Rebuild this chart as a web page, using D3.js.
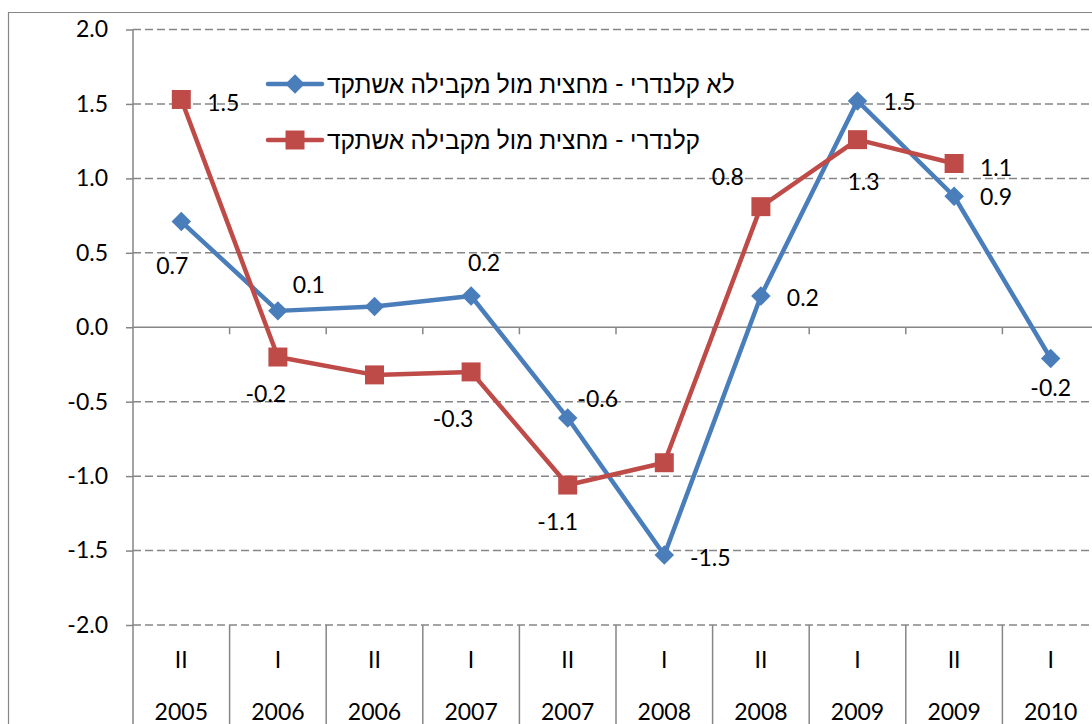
<!DOCTYPE html>
<html>
<head>
<meta charset="utf-8">
<script src="https://cdn.jsdelivr.net/npm/d3@7"></script>
<style>
  body { margin: 0; background: #fff; }
  svg text { font-family: Lato, 'Liberation Sans', sans-serif; fill: #000; }
</style>
</head>
<body>
<svg id="chart" width="1092" height="724"></svg>
<script>
// half-year categories
var halves = ['II', 'I', 'II', 'I', 'II', 'I', 'II', 'I', 'II', 'I'];
var years = ['2005', '2006', '2006', '2007', '2007', '2008', '2008', '2009', '2009', '2010'];

// series values
var nonCalendar = [0.71, 0.11, 0.14, 0.21, -0.61, -1.53, 0.21, 1.52, 0.88, -0.21];
var calendar = [1.53, -0.20, -0.32, -0.30, -1.06, -0.91, 0.81, 1.26, 1.10, null];

var seriesNames = ['לא קלנדרי - מחצית מול מקבילה אשתקד', 'קלנדרי - מחצית מול מקבילה אשתקד'];
var yTicks = [2.0, 1.5, 1.0, 0.5, 0.0, -0.5, -1.0, -1.5, -2.0];

// where each data label sits relative to its point (null = no label)
var blueLabelPos = [[-9, 44], [31, -26], null, [13, -33], [30, -19], [46, 3], [42, 2], [42, 1], [42, 1], [0, 29]];
var redLabelPos = [[42, 3], [-12, 37], null, [-18, 47], [-10, 37], null, [-33, -30], [6, 42], [42, 4], null];

var svg = d3.select('#chart');
var blue = '#4a7ebb', red = '#be4b48', grid = '#868686';
var fontSize = '23px';

var x = d3.scaleBand()
	.domain(d3.range(halves.length))
	.range([133, 1099])
	.padding(0);

var y = d3.scaleLinear()
	.domain([-2, 2])
	.range([625, 29.5]);

var cx = i => x(i) + x.bandwidth() / 2;
var fmt = v => d3.format('.1f')(v).replace('−', '-');

// outer chart border
svg.append('path')
	.attr('d', 'M8.5,724 V12.5 H1092')
	.attr('fill', 'none')
	.attr('stroke', grid)
	.attr('stroke-width', 1.2);

// dashed gridlines
svg.append('g').selectAll('line')
	.data(yTicks.filter(d => d !== 0))
	.enter().append('line')
	.attr('x1', 133).attr('x2', 1099)
	.attr('y1', d => y(d)).attr('y2', d => y(d))
	.attr('stroke', grid)
	.attr('stroke-width', 1.5)
	.attr('stroke-dasharray', '8,4');

// y axis
var yAxis = svg.append('g')
	.attr('transform', 'translate(133,0)')
	.call(d3.axisLeft(y).tickValues(yTicks).tickSize(7).tickPadding(18));
yAxis.select('.domain').remove();
yAxis.selectAll('line').attr('stroke', grid).attr('stroke-width', 1.5);
yAxis.selectAll('text')
	.style('font-size', fontSize)
	.style('font-family', "Lato, 'Liberation Sans', sans-serif")
	.text(fmt);

svg.append('line')
	.attr('x1', 133).attr('x2', 133)
	.attr('y1', y(2)).attr('y2', 724)
	.attr('stroke', grid).attr('stroke-width', 1.5);

// category axis line at zero with ticks
svg.append('line')
	.attr('x1', 133).attr('x2', 1099)
	.attr('y1', y(0)).attr('y2', y(0))
	.attr('stroke', grid).attr('stroke-width', 1.5);

var bounds = d3.range(1, halves.length).map(i => x(i));
svg.append('g').selectAll('line')
	.data(bounds)
	.enter().append('line')
	.attr('x1', d => d).attr('x2', d => d)
	.attr('y1', y(0)).attr('y2', y(0) + 7)
	.attr('stroke', grid).attr('stroke-width', 1.5);

// separators in the label area below the plot
svg.append('g').selectAll('line')
	.data(bounds)
	.enter().append('line')
	.attr('x1', d => d).attr('x2', d => d)
	.attr('y1', y(-2)).attr('y2', 724)
	.attr('stroke', grid).attr('stroke-width', 1.5);

var catLabels = svg.append('g').style('font-size', fontSize);
catLabels.selectAll('.half')
	.data(halves)
	.enter().append('text')
	.attr('x', (d, i) => cx(i))
	.attr('y', 660)
	.attr('dy', '0.35em')
	.attr('text-anchor', 'middle')
	.text(d => d);
catLabels.selectAll('.year')
	.data(years)
	.enter().append('text')
	.attr('x', (d, i) => cx(i))
	.attr('y', 712)
	.attr('dy', '0.35em')
	.attr('text-anchor', 'middle')
	.text(d => d);

// lines and markers
var line = d3.line()
	.defined(d => d !== null)
	.x((d, i) => cx(i))
	.y(d => y(d));

var drawSeries = function(values, color, size, diamond) {
	svg.append('path')
		.datum(values)
		.attr('d', line)
		.attr('fill', 'none')
		.attr('stroke', color)
		.attr('stroke-width', 4.5)
		.attr('stroke-linejoin', 'round');

	svg.append('g').selectAll('path')
		.data(values.map((v, i) => ({v: v, i: i})).filter(d => d.v !== null))
		.enter().append('path')
		.attr('d', d3.symbol().type(d3.symbolSquare).size(size))
		.attr('transform', d => 'translate(' + cx(d.i) + ',' + y(d.v) + ')' + (diamond ? ' rotate(45)' : ''))
		.attr('fill', color);
};

drawSeries(nonCalendar, blue, 190, true);
drawSeries(calendar, red, 360, false);

// data labels
var drawLabels = function(values, pos) {
	svg.append('g').style('font-size', fontSize).selectAll('text')
		.data(values.map((v, i) => ({v: v, i: i, p: pos[i]})).filter(d => d.v !== null && d.p))
		.enter().append('text')
		.attr('x', d => cx(d.i) + d.p[0])
		.attr('y', d => y(d.v) + d.p[1])
		.attr('dy', '0.35em')
		.attr('text-anchor', 'middle')
		.text(d => fmt(d.v));
};
drawLabels(nonCalendar, blueLabelPos);
drawLabels(calendar, redLabelPos);

// legend
var legend = svg.append('g');
[blue, red].forEach(function(c, k) {
	var ly = 84 + k * 56;
	legend.append('line')
		.attr('x1', 268).attr('x2', 322)
		.attr('y1', ly).attr('y2', ly)
		.attr('stroke', c).attr('stroke-width', 4.5).attr('stroke-linecap', 'round');
	legend.append('path')
		.attr('d', d3.symbol().type(d3.symbolSquare).size(k === 0 ? 190 : 360))
		.attr('transform', 'translate(295,' + ly + ')' + (k === 0 ? ' rotate(45)' : ''))
		.attr('fill', c);
	legend.append('text')
		.attr('x', 327)
		.attr('y', ly)
		.attr('dy', '0.35em')
		.style('font-size', '24.5px')
		.text(seriesNames[k]);
});
</script>
</body>
</html>
